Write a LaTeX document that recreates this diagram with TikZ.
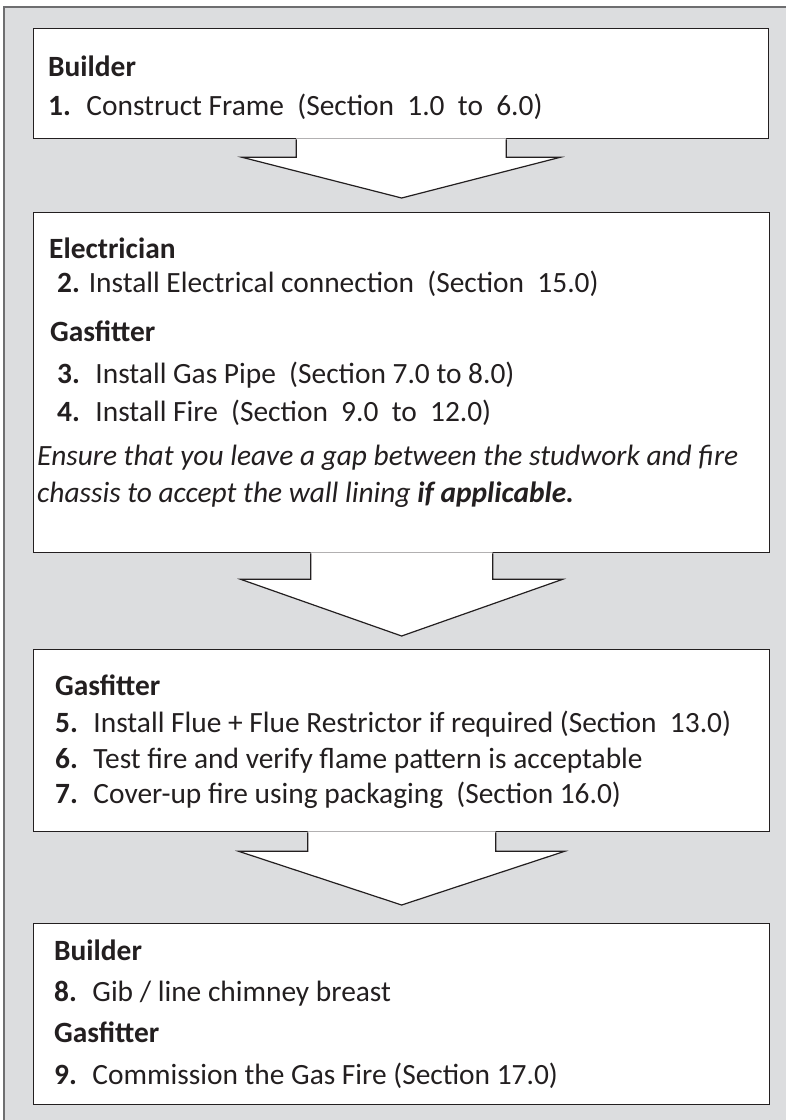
\documentclass[tikz,border=0pt]{standalone}
\usepackage{fontspec}
\setmainfont{Carlito}
\usetikzlibrary{calc}

\definecolor{panelgray}{RGB}{220,221,223}
\definecolor{framegray}{RGB}{110,110,112}
\definecolor{ink}{RGB}{35,31,32}

\tikzset{
  stepbox/.style={draw=ink, line width=1.3pt, fill=white, rectangle, inner sep=0pt,
    anchor=north west, minimum width=736pt},
  line/.style={anchor=base west, inner sep=0pt, text=ink, font=\fontsize{29.4}{35}\selectfont},
  arrowline/.style={draw=ink, line width=1.2pt, line join=miter},
}

% block arrow: from box, to box, stem half width, head half width, shoulder depth, gap above next box
\newcommand{\blockarrow}[6]{%
  \fill[white] ($(#1.south)+(-#3,-1)$) -- ($(#1.south)+(-#3,#5)$) -- ($(#1.south)+(-#4,#5)$)
    -- ($(#2.north)+(0,-#6)$) -- ($(#1.south)+(#4,#5)$) -- ($(#1.south)+(#3,#5)$)
    -- ($(#1.south)+(#3,-1)$) -- cycle;
  \draw[arrowline] ($(#1.south)+(-#3,0)$) -- ($(#1.south)+(-#3,#5)$) -- ($(#1.south)+(-#4,#5)$)
    -- ($(#2.north)+(0,-#6)$) -- ($(#1.south)+(#4,#5)$) -- ($(#1.south)+(#3,#5)$)
    -- ($(#1.south)+(#3,0)$);
}

\begin{document}
\begin{tikzpicture}[x=1pt,y=-1pt]
\useasboundingbox (0,0) rectangle (786,1120);
\draw[framegray, line width=2pt, fill=panelgray] (4,7) rectangle (800,1135);

% boxes
\node[stepbox, minimum width=735pt, minimum height=110pt] (b1) at (33,28) {};
\node[stepbox, minimum height=340pt] (b2) at (33,212) {};
\node[stepbox, minimum height=182pt] (b3) at (33,649) {};
\node[stepbox, minimum height=181pt] (b4) at (33,923) {};

% arrows between boxes
\blockarrow{b1}{b2}{105}{159}{18}{14}
\blockarrow{b2}{b3}{91}{161}{26}{13}
\blockarrow{b3}{b4}{94}{163}{19}{18}

% box 1
\node[line] (b1who) at (48,76) {\textbf{Builder}};
\node[line] (b1s1) at (48,115) {\textbf{1.}~ Construct Frame~ (Section~ 1.0~ to~ 6.0)};

% box 2
\node[line] (b2who) at (49,258) {\textbf{Electrician}};
\node[line] (b2s2) at (57,292) {\textbf{2.} Install Electrical connection~ (Section~ 15.0)};
\node[line] (b2who2) at (50,341) {\textbf{Gasfitter}};
\node[line] (b2s3) at (57,383) {\textbf{3.}~ Install Gas Pipe~ (Section 7.0 to 8.0)};
\node[line] (b2s4) at (57,421) {\textbf{4.}~ Install Fire~ (Section~ 9.0~ to~ 12.0)};
\node[line] (b2note1) at (37,465) {\textit{Ensure that you leave a gap between the studwork and fire}};
\node[line] (b2note2) at (37,502) {\textit{chassis to accept the wall lining \textbf{if applicable.}}};

% box 3
\node[line] (b3who) at (55,695) {\textbf{Gasfitter}};
\node[line] (b3s5) at (55,732) {\textbf{5.}~ Install Flue + Flue Restrictor if required (Section~ 13.0)};
\node[line] (b3s6) at (55,768) {\textbf{6.}~ Test fire and verify flame pattern is acceptable};
\node[line] (b3s7) at (55,803) {\textbf{7.}~ Cover-up fire using packaging~ (Section 16.0)};

% box 4
\node[line] (b4who) at (54,960) {\textbf{Builder}};
\node[line] (b4s8) at (54,1001) {\textbf{8.}~ Gib / line chimney breast};
\node[line] (b4who2) at (54,1042) {\textbf{Gasfitter}};
\node[line] (b4s9) at (54,1084) {\textbf{9.}~ Commission the Gas Fire (Section 17.0)};
\end{tikzpicture}
\end{document}
